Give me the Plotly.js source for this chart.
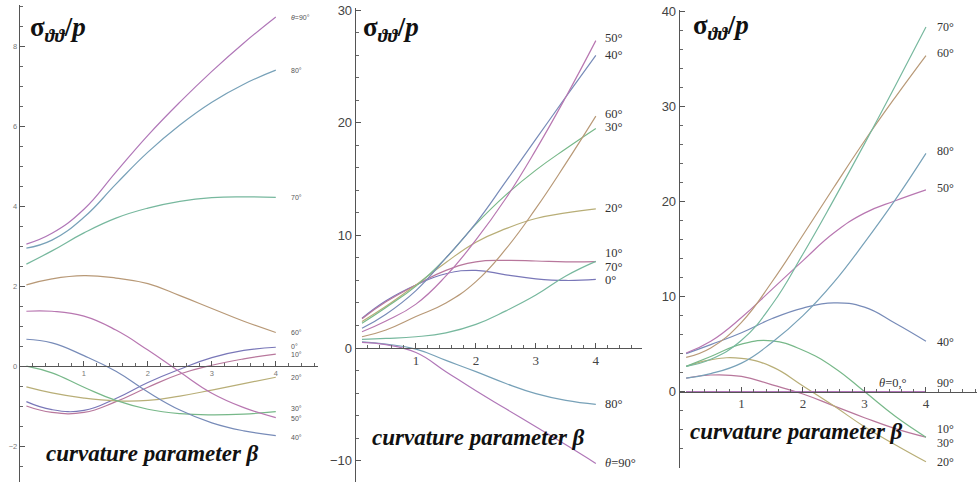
<!DOCTYPE html>
<html><head><meta charset="utf-8">
<script src="https://cdn.plot.ly/plotly-3.0.1.min.js"></script>
<style>html,body{margin:0;padding:0;background:#fff}#chart{width:977px;height:483px}</style>
</head><body><div id="chart"></div>
<script>
const beta = [0.1,0.5,1.0,1.5,2.0,2.5,3.0,3.5,4.0];
const angleNames = ['0°','10°','20°','30°','40°','50°','60°','70°','80°','90°'];

// Panel A (left)
const a_0  = [-0.89,-1.09,-1.11,-0.81,-0.41,-0.08,0.21,0.39,0.47];
const a_10 = [-1.0,-1.16,-1.16,-0.89,-0.53,-0.2,0.02,0.18,0.3];
const a_20 = [-0.52,-0.67,-0.8,-0.87,-0.86,-0.75,-0.6,-0.44,-0.28];
const a_30 = [0.0,-0.17,-0.53,-0.86,-1.08,-1.19,-1.22,-1.2,-1.14];
const a_40 = [0.67,0.58,0.26,-0.13,-0.65,-1.1,-1.42,-1.62,-1.74];
const a_50 = [1.37,1.37,1.25,0.9,0.4,-0.15,-0.68,-1.04,-1.29];
const a_60 = [2.03,2.18,2.26,2.2,2.06,1.76,1.44,1.12,0.84];
const a_70 = [2.55,2.88,3.33,3.7,3.95,4.12,4.21,4.23,4.22];
const a_80 = [2.95,3.15,3.72,4.55,5.35,6.03,6.6,7.05,7.4];
const a_90 = [3.05,3.32,3.92,4.85,5.77,6.6,7.37,8.08,8.73];

// Panel B (middle)
const b_0  = [2.65,4.2,5.6,6.6,6.9,6.5,6.15,6.0,6.1];
const b_10 = [2.6,4.1,5.6,6.9,7.65,7.78,7.73,7.65,7.67];
const b_20 = [2.35,3.7,5.6,7.6,9.4,10.6,11.5,12.0,12.35];
const b_30 = [2.2,3.6,5.5,8.0,11.0,13.6,15.8,17.7,19.5];
const b_40 = [1.75,3.0,5.1,8.0,11.1,14.8,18.55,22.3,26.0];
const b_50 = [1.45,2.4,3.9,6.4,9.6,13.3,17.6,22.3,27.3];
const b_60 = [1.0,1.6,2.8,4.0,5.9,8.8,12.4,16.4,20.6];
const b_70 = [0.77,0.85,1.0,1.35,2.1,3.3,4.7,6.4,7.7];
const b_80 = [0.55,0.35,-0.1,-1.1,-2.1,-3.15,-4.05,-4.65,-5.0];
const b_90 = [0.5,0.3,-0.4,-2.1,-3.8,-5.4,-7.0,-8.6,-10.25];

// Panel C (right)
const c_0  = [0,0,0,0,0,0,0,0,0];
const c_10 = [1.42,1.75,1.6,0.7,-0.25,-1.5,-2.75,-3.9,-4.8];
const c_20 = [2.65,3.35,3.5,2.6,0.6,-1.5,-3.7,-5.6,-7.4];
const c_30 = [2.65,3.7,5.0,5.35,4.35,2.55,0.0,-2.6,-4.8];
const c_40 = [4.0,4.95,6.2,7.7,8.8,9.35,8.9,7.2,5.3];
const c_50 = [4.07,5.3,7.8,10.8,13.8,16.7,18.8,20.1,21.25];
const c_60 = [3.6,4.6,7.3,11.6,16.5,21.5,26.4,31.0,35.4];
const c_70 = [2.65,3.4,5.4,9.2,14.5,20.2,26.1,32.2,38.4];
const c_80 = [1.42,1.9,3.0,5.2,8.0,11.5,15.7,20.2,25.1];
const c_90 = [0,0,0,0,0,0,0,0,0];

// curve labels
const labA_text = ['<i>θ</i>=90°','80°','70°','60°','0°','10°','20°','30°','50°','40°'];
const labA_y    = [8.72,7.4,4.22,0.85,0.5,0.28,-0.28,-1.06,-1.32,-1.78];
const labB_text = ['50°','40°','60°','30°','20°','10°','70°','0°','80°','<i>θ</i>=90°'];
const labB_y    = [27.5,26.0,20.8,19.6,12.4,8.4,7.2,6.0,-5.0,-10.2];
const labC_text = ['70°','60°','80°','50°','40°','10°','30°','20°','90°'];
const labC_y    = [38.4,35.7,25.3,21.4,5.2,-3.95,-5.4,-7.4,0.9];

const colors = ['#7977b8','#b8779c','#b8ae77','#77b889','#778bb8','#b877b1','#b89977','#77b89e','#77a1b8','#b077b8'];

const W = 977, H = 483;
const px = v => v / W;
const py = v => 1 - v / H;

const seriesA = [a_0,a_10,a_20,a_30,a_40,a_50,a_60,a_70,a_80,a_90];
const seriesB = [b_0,b_10,b_20,b_30,b_40,b_50,b_60,b_70,b_80,b_90];
const seriesC = [c_0,c_10,c_20,c_30,c_40,c_50,c_60,c_70,c_80,c_90];

const traces = [];
function addSeries(list, xa, ya) {
  list.forEach((ys, i) => {
    traces.push({x: beta, y: ys, xaxis: xa, yaxis: ya, type: 'scatter', mode: 'lines',
      name: angleNames[i], line: {color: colors[i], width: 1.2, shape: 'spline', smoothing: 1.3},
      hoverinfo: 'skip', showlegend: false});
  });
}
addSeries(seriesA, 'x', 'y');
addSeries(seriesB, 'x2', 'y2');
addSeries(seriesC, 'x3', 'y3');

const panels = [
  {xd: [px(20), px(318)], xr: [0, 4.66], yd: [py(482), py(5)], yr: [-2.9, 9.03], ydt: 2, ymin: 0.5, tf: 7.5, tc: '#777'},
  {xd: [px(356), px(642)], xr: [0, 4.77], yd: [py(482), py(8)], yr: [-11.9, 30.2], ydt: 10, ymin: 2, tf: 13, tc: '#444'},
  {xd: [px(680), px(977)], xr: [0, 4.83], yd: [py(468), py(10)], yr: [-8.05, 40.2], ydt: 10, ymin: 2, tf: 13, tc: '#444'}
];

const layout = {
  width: W, height: H, margin: {l: 0, r: 0, t: 0, b: 0},
  paper_bgcolor: '#fff', plot_bgcolor: 'rgba(0,0,0,0)', showlegend: false,
  annotations: []
};

panels.forEach((p, i) => {
  const sx = i === 0 ? '' : String(i + 1);
  const pos = p.yd[0] + (0 - p.yr[0]) / (p.yr[1] - p.yr[0]) * (p.yd[1] - p.yd[0]);
  layout['xaxis' + sx] = {
    domain: p.xd, range: p.xr, anchor: 'free', position: pos,
    showline: true, linecolor: '#555', linewidth: 1.3, showgrid: false, zeroline: false,
    tickmode: 'array', tickvals: [1, 2, 3, 4], ticks: 'inside', ticklen: 5, tickcolor: '#555',
    tickfont: {family: i === 0 ? 'Liberation Sans' : 'Liberation Serif', size: p.tf, color: p.tc},
    minor: {tickmode: 'linear', tick0: 0, dtick: 0.2, ticks: 'inside', ticklen: 3, tickcolor: '#666'}
  };
  layout['yaxis' + sx] = {
    domain: p.yd, range: p.yr, anchor: 'x' + sx, side: 'left',
    showline: true, linecolor: '#555', linewidth: 1.3, showgrid: false, zeroline: false,
    tickmode: 'linear', tick0: 0, dtick: p.ydt, ticks: 'inside', ticklen: 5, tickcolor: '#555',
    tickfont: {family: 'Liberation Sans', size: p.tf, color: p.tc},
    minor: {tickmode: 'linear', tick0: 0, dtick: p.ymin, ticks: 'inside', ticklen: 3, tickcolor: '#666'}
  };
});

// titles
const titleX = [px(28), px(361), px(691)];
const titleY = [py(29), py(29), py(27)];
const betaX = [px(152), px(478), px(796)];
const betaY = [py(453), py(437), py(431)];
for (let i = 0; i < 3; i++) {
  layout.annotations.push({xref: 'paper', yref: 'paper', x: titleX[i], y: titleY[i], xanchor: 'left', yanchor: 'middle',
    text: '<b>σ<sub><i>ϑϑ</i></sub>/<i>p</i></b>', showarrow: false,
    font: {family: 'Liberation Serif', size: 27, color: '#111'}});
  layout.annotations.push({xref: 'paper', yref: 'paper', x: betaX[i], y: betaY[i], xanchor: 'center', yanchor: 'middle',
    text: '<b><i>curvature parameter β</i></b>', showarrow: false,
    font: {family: 'Liberation Serif', size: 23, color: '#111'}});
}

labA_text.forEach((t, k) => layout.annotations.push({xref: 'x', yref: 'y', x: 4.2, y: labA_y[k], xanchor: 'left', yanchor: 'middle',
  text: t, showarrow: false, font: {family: 'Liberation Sans', size: 7, color: '#555'}}));
labB_text.forEach((t, k) => layout.annotations.push({xref: 'x2', yref: 'y2', x: 4.12, y: labB_y[k], xanchor: 'left', yanchor: 'middle',
  text: t, showarrow: false, font: {family: 'Liberation Serif', size: 12.5, color: '#333'}}));
labC_text.forEach((t, k) => layout.annotations.push({xref: 'x3', yref: 'y3', x: 4.15, y: labC_y[k], xanchor: 'left', yanchor: 'middle',
  text: t, showarrow: false, font: {family: 'Liberation Serif', size: 12, color: '#333'}}));
layout.annotations.push({xref: 'x3', yref: 'y3', x: 3.2, y: 0.9, xanchor: 'left', yanchor: 'middle',
  text: '<i>θ</i>=0,°', showarrow: false, font: {family: 'Liberation Serif', size: 12.5, color: '#333'}});

Plotly.newPlot('chart', traces, layout, {staticPlot: true, displayModeBar: false});
</script>
</body></html>
